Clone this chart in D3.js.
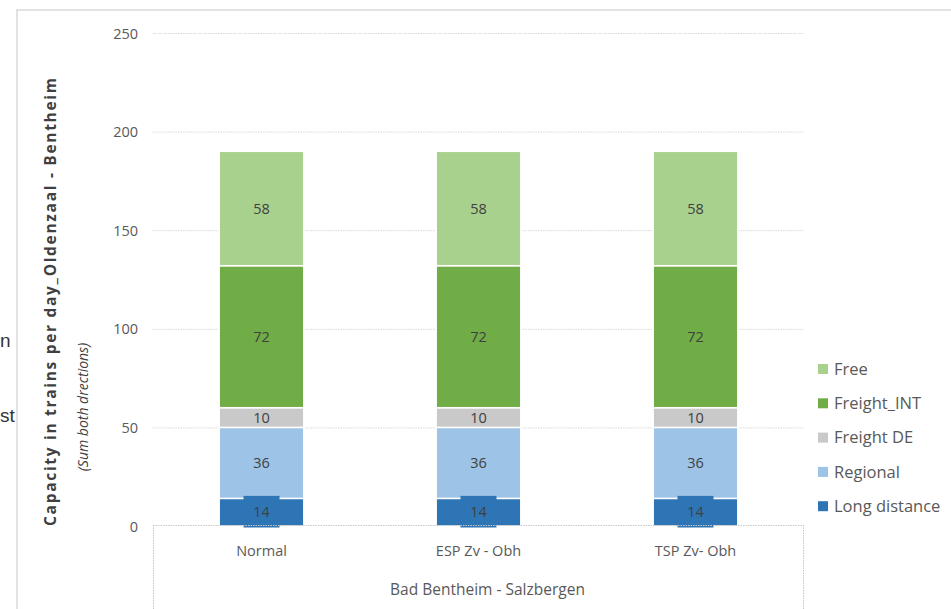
<!DOCTYPE html>
<html><head><meta charset="utf-8">
<script src="https://cdn.jsdelivr.net/npm/d3@7"></script>
<style>
body{margin:0;background:#fff;}
svg{display:block;font-family:"Open Sans","Lato",sans-serif;}
</style></head>
<body>
<script>
const categories = ["Normal", "ESP Zv - Obh", "TSP Zv- Obh"];
const groupLabel = "Bad Bentheim - Salzbergen";
const seriesNames = ["Long distance", "Regional", "Freight DE", "Freight_INT", "Free"];
const longDistance = [14, 14, 14];
const regional = [36, 36, 36];
const freightDE = [10, 10, 10];
const freightINT = [72, 72, 72];
const free = [58, 58, 58];
const yTicks = [0, 50, 100, 150, 200, 250];
const colors = ["#2e75b6", "#9dc3e6", "#c9c9c9", "#70ad47", "#a9d18e"];

const W = 951, H = 609;
const svg = d3.select("body").append("svg").attr("width", W).attr("height", H);

// background fragments & frame
svg.append("text").attr("x", 0).attr("y", 347)
  .attr("font-size", 19).attr("fill", "#333").attr("font-family", "Liberation Sans, sans-serif").text("n");
svg.append("text").attr("x", 0).attr("y", 422)
  .attr("font-size", 19).attr("fill", "#333").attr("font-family", "Liberation Sans, sans-serif").text("st");
svg.append("rect").attr("x", 17).attr("y", 10).attr("width", W).attr("height", H)
  .attr("fill", "#fff").attr("stroke", "#d9d9d9").attr("stroke-width", 1.5);

const x0 = 153, x1 = 804, yTop = 33, yBot = 526;
const x = d3.scaleBand().domain(categories).range([x0, x1]).paddingInner(0.61).paddingOuter(0.305);
const y = d3.scaleLinear().domain([0, 250]).range([yBot, yTop]);

// gridlines
svg.append("g").selectAll("line").data(yTicks.filter(d => d > 0)).join("line")
  .attr("x1", x0).attr("x2", x1).attr("y1", d => y(d) + 0.5).attr("y2", d => y(d) + 0.5)
  .attr("stroke", "#d9d9d9").attr("stroke-width", 1).attr("stroke-dasharray", "1.5,1");

// y axis
const yAxis = d3.axisLeft(y).tickValues(yTicks).tickSize(0).tickPadding(0);
const gy = svg.append("g").attr("transform", `translate(138,0)`).call(yAxis);
gy.select(".domain").remove();
gy.selectAll("text").attr("font-size", 14.5).attr("fill", "#595959")
  .attr("font-family", "Open Sans, sans-serif").attr("dy", "0.35em");

// stacked data
const rows = categories.map((c, i) => ({cat: c, "Long distance": longDistance[i], "Regional": regional[i],
  "Freight DE": freightDE[i], "Freight_INT": freightINT[i], "Free": free[i]}));
const stack = d3.stack().keys(seriesNames)(rows);

const layers = svg.append("g").selectAll("g").data(stack).join("g")
  .attr("fill", (d, i) => colors[i]);
layers.selectAll("rect").data(d => d).join("rect")
  .attr("x", d => x(d.data.cat)).attr("width", x.bandwidth())
  .attr("y", d => y(d[1])).attr("height", d => y(d[0]) - y(d[1]))
  .attr("stroke", "#fff").attr("stroke-width", 1.5);

// label background boxes for Long distance (the protruding box)
svg.append("g").selectAll("rect").data(stack[0]).join("rect")
  .attr("x", d => x(d.data.cat) + x.bandwidth() / 2 - 18).attr("width", 36)
  .attr("y", d => y(d[1]) - 2.5).attr("height", d => y(d[0]) - y(d[1]) + 4)
  .attr("fill", colors[0]);

// value labels
stack.forEach((layer, i) => {
  svg.append("g").selectAll("text").data(layer).join("text")
    .attr("x", d => x(d.data.cat) + x.bandwidth() / 2)
    .attr("y", d => (y(d[0]) + y(d[1])) / 2)
    .attr("dy", "0.36em").attr("text-anchor", "middle")
    .attr("font-size", 14.5).attr("fill", "#404040")
    .text(d => d[1] - d[0]);
});

// category axis lines
const axc = "#c8c8c8";
svg.append("line").attr("x1", x0).attr("x2", x1).attr("y1", 525.5).attr("y2", 525.5)
  .attr("stroke", axc).attr("stroke-dasharray", "1.5,1");
[x0 + 0.5, x1 - 0.5].forEach(px => svg.append("line").attr("x1", px).attr("x2", px)
  .attr("y1", 525).attr("y2", H).attr("stroke", axc).attr("stroke-dasharray", "1.5,1"));

const xAxis = d3.axisBottom(x).tickSize(0).tickPadding(0);
const gx = svg.append("g").attr("transform", "translate(0,551)").call(xAxis);
gx.select(".domain").remove();
gx.selectAll("text").attr("font-size", 14.5).attr("fill", "#595959")
  .attr("font-family", "Open Sans, sans-serif").attr("dy", "0.35em");

svg.append("text").attr("x", (x0 + x1) / 2 + 9).attr("y", 590).attr("dy", "0.35em")
  .attr("text-anchor", "middle").attr("font-size", 15.5).attr("fill", "#595959").text(groupLabel);

// y title
svg.append("text").attr("transform", "translate(56,302) rotate(-90)").attr("text-anchor", "middle")
  .attr("font-size", 15.5).attr("font-weight", "bold").attr("fill", "#404040")
  .attr("textLength", 448).attr("lengthAdjust", "spacing")
  .text("Capacity in trains per day_Oldenzaal  -  Bentheim");
svg.append("text").attr("transform", "translate(88,407) rotate(-90)").attr("text-anchor", "middle")
  .attr("font-size", 14).attr("font-style", "italic").attr("fill", "#404040")
  .text("(Sum both drections)");

// legend
const legendOrder = seriesNames.map((n, i) => ({n, c: colors[i]})).reverse();
const lg = svg.append("g").selectAll("g").data(legendOrder).join("g")
  .attr("transform", (d, i) => `translate(818,${369 + i * 34.3})`);
lg.append("rect").attr("x", 0).attr("y", -5).attr("width", 10).attr("height", 10).attr("fill", d => d.c);
lg.append("text").attr("x", 16).attr("dy", "0.35em").attr("font-size", 16.5).attr("fill", "#595959").text(d => d.n);
</script>
</body></html>
